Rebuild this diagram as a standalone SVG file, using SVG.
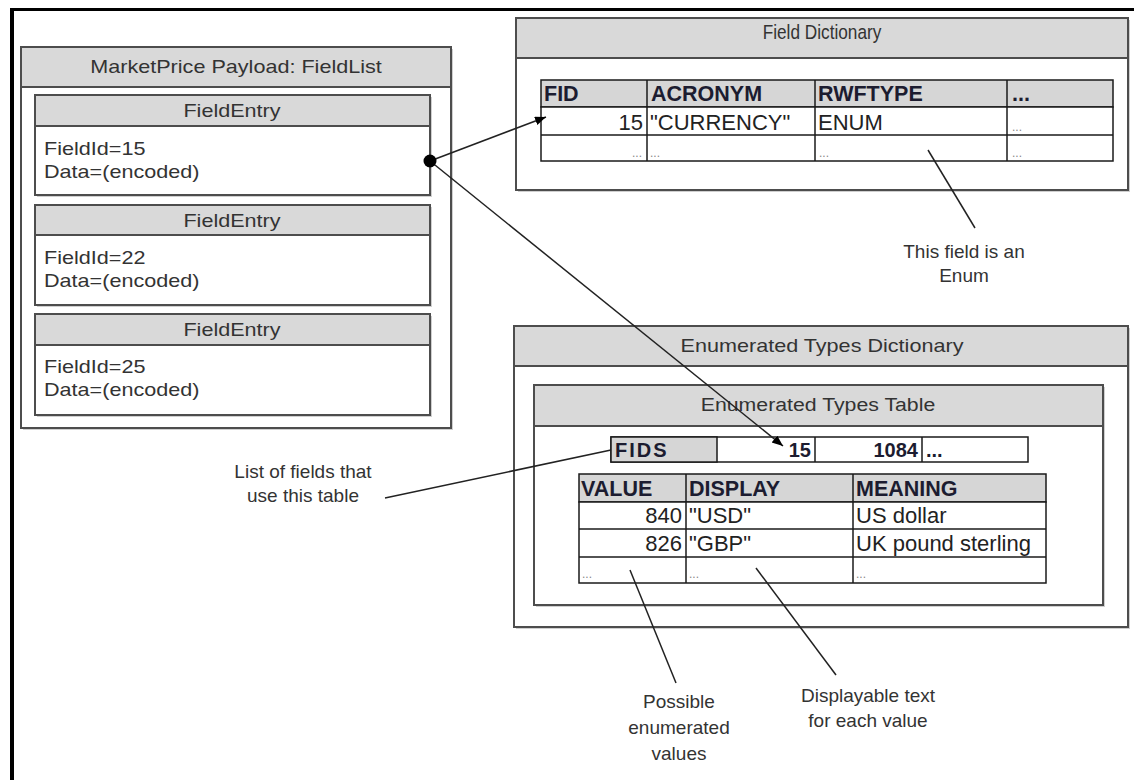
<svg xmlns="http://www.w3.org/2000/svg" width="1134" height="780" viewBox="0 0 1134 780">
<style>
.frame{fill:none;stroke:#000;}
.box{fill:#fff;stroke:#4d4d4d;stroke-width:2;}
.shadow{fill:#cfcfcf;stroke:none;}
.hdr{fill:#d9d9d9;stroke:#4d4d4d;stroke-width:2;}
.bx{font-family:"Liberation Sans",Arial,sans-serif;font-size:18px;fill:#333;}
.ttl{font-family:"Liberation Sans",Arial,sans-serif;fill:#333;}
.cell{fill:#fff;stroke:#1a1a1a;stroke-width:1.5;}
.chdr{fill:#d6d6d6;stroke:#1a1a1a;stroke-width:1.5;}
.th{font-family:"Liberation Sans",Arial,sans-serif;font-size:21.5px;font-weight:bold;fill:#1c1c30;}
.td{font-family:"Liberation Sans",Arial,sans-serif;font-size:22px;fill:#222;}
.thf{font-family:"Liberation Sans",Arial,sans-serif;font-size:20px;font-weight:bold;fill:#1c1c30;}
.dots{font-family:"Liberation Sans",Arial,sans-serif;font-size:12px;fill:#888;}
.lbl{font-family:"Liberation Sans",Arial,sans-serif;font-size:19px;fill:#333;text-anchor:middle;}
.conn{fill:none;stroke:#222;stroke-width:1.5;}
</style>
<defs>
<marker id="arr" markerUnits="userSpaceOnUse" markerWidth="12" markerHeight="10" refX="11" refY="4.5" orient="auto">
<path d="M0,0 L11,4.5 L0,9 z" fill="#000"/>
</marker>
</defs>
<rect width="1134" height="780" fill="#fff"/>
<line class="frame" x1="10" y1="9.5" x2="1134" y2="9.5" stroke-width="3"/>
<line class="frame" x1="12" y1="8" x2="12" y2="780" stroke-width="4"/>

<g id="fieldlist">
<rect class="shadow" x="23" y="49" width="430" height="381"/>
<rect class="box" x="21" y="47" width="430" height="381"/>
<rect class="hdr" x="21" y="47" width="430" height="40"/>
<text class="bx" text-anchor="middle" transform="translate(236,73) scale(1.2,1)">MarketPrice Payload: FieldList</text>
</g>

<g id="entry1">
<rect class="shadow" x="37" y="97" width="395" height="100"/>
<rect class="box" x="35" y="95" width="395" height="100"/>
<rect class="hdr" x="35" y="95" width="395" height="31"/>
<text class="bx" text-anchor="middle" transform="translate(232,117) scale(1.2,1)">FieldEntry</text>
<text class="bx" transform="translate(44,155) scale(1.2,1)">FieldId=15</text>
<text class="bx" transform="translate(44,178) scale(1.2,1)">Data=(encoded)</text>
</g>

<g id="entry2">
<rect class="shadow" x="37" y="207" width="395" height="100"/>
<rect class="box" x="35" y="205" width="395" height="100"/>
<rect class="hdr" x="35" y="205" width="395" height="30"/>
<text class="bx" text-anchor="middle" transform="translate(232,227) scale(1.2,1)">FieldEntry</text>
<text class="bx" transform="translate(44,264) scale(1.2,1)">FieldId=22</text>
<text class="bx" transform="translate(44,287) scale(1.2,1)">Data=(encoded)</text>
</g>

<g id="entry3">
<rect class="shadow" x="37" y="316" width="395" height="101"/>
<rect class="box" x="35" y="314" width="395" height="101"/>
<rect class="hdr" x="35" y="314" width="395" height="31"/>
<text class="bx" text-anchor="middle" transform="translate(232,336) scale(1.2,1)">FieldEntry</text>
<text class="bx" transform="translate(44,373) scale(1.2,1)">FieldId=25</text>
<text class="bx" transform="translate(44,396) scale(1.2,1)">Data=(encoded)</text>
</g>

<g id="fielddict">
<rect class="shadow" x="518" y="20" width="612" height="172"/>
<rect class="box" x="516" y="18" width="612" height="172"/>
<rect class="hdr" x="516" y="18" width="612" height="40"/>
<text class="ttl" font-size="20.5" text-anchor="middle" transform="translate(822,39) scale(0.84,1)">Field Dictionary</text>
<rect class="chdr" x="541" y="80" width="572" height="27"/>
<rect class="cell" x="541" y="107" width="572" height="54"/>
<line class="cell" x1="541" y1="135" x2="1113" y2="135"/>
<line class="cell" x1="647" y1="80" x2="647" y2="161"/>
<line class="cell" x1="815" y1="80" x2="815" y2="161" stroke-width="2.5"/>
<line class="cell" x1="1007" y1="80" x2="1007" y2="161"/>
<text class="th" x="544" y="101">FID</text>
<text class="th" x="651" y="101">ACRONYM</text>
<text class="th" x="818" y="101">RWFTYPE</text>
<text class="th" x="1012" y="101">...</text>
<text class="td" x="643" y="130" text-anchor="end">15</text>
<text class="td" x="650" y="130">"CURRENCY"</text>
<text class="td" x="818" y="130">ENUM</text>
<text class="dots" x="1012" y="131">...</text>
<text class="dots" x="642" y="157" text-anchor="end">...</text>
<text class="dots" x="650" y="157">...</text>
<text class="dots" x="819" y="157">...</text>
<text class="dots" x="1012" y="157">...</text>
</g>

<g id="enumdict">
<rect class="shadow" x="516" y="328" width="614" height="301"/>
<rect class="box" x="514" y="326" width="614" height="301"/>
<rect class="hdr" x="514" y="326" width="614" height="40"/>
<text class="ttl" font-size="18" text-anchor="middle" transform="translate(822,352) scale(1.2,1)">Enumerated Types Dictionary</text>
</g>

<g id="enumtable">
<rect class="shadow" x="536" y="387" width="569" height="220"/>
<rect class="box" x="534" y="385" width="569" height="220"/>
<rect class="hdr" x="534" y="385" width="569" height="41"/>
<text class="ttl" font-size="19" text-anchor="middle" transform="translate(818,411) scale(1.12,1)">Enumerated Types Table</text>
<rect class="cell" x="611" y="437" width="417" height="25"/>
<rect class="chdr" x="611" y="437" width="106" height="25"/>
<line class="cell" x1="815" y1="437" x2="815" y2="462" stroke-width="2.5"/>
<line class="cell" x1="922" y1="437" x2="922" y2="462"/>
<text class="thf" x="615" y="457" letter-spacing="2">FIDS</text>
<text class="thf" x="811" y="457" text-anchor="end">15</text>
<text class="thf" x="918" y="457" text-anchor="end">1084</text>
<text class="thf" x="926" y="457">...</text>
<rect class="chdr" x="579" y="474" width="467" height="28"/>
<rect class="cell" x="579" y="502" width="467" height="81"/>
<line class="cell" x1="579" y1="529" x2="1046" y2="529"/>
<line class="cell" x1="579" y1="557" x2="1046" y2="557"/>
<line class="cell" x1="686" y1="474" x2="686" y2="583"/>
<line class="cell" x1="853" y1="474" x2="853" y2="583"/>
<text class="th" x="581" y="496">VALUE</text>
<text class="th" x="689" y="496">DISPLAY</text>
<text class="th" x="856" y="496">MEANING</text>
<text class="td" x="682" y="523" text-anchor="end">840</text>
<text class="td" x="689" y="523">"USD"</text>
<text class="td" x="856" y="523">US dollar</text>
<text class="td" x="682" y="551" text-anchor="end">826</text>
<text class="td" x="689" y="551">"GBP"</text>
<text class="td" x="856" y="551">UK pound sterling</text>
<text class="dots" x="582" y="578">...</text>
<text class="dots" x="689" y="578">...</text>
<text class="dots" x="856" y="578">...</text>
</g>

<g id="connectors">
<line class="conn" x1="430" y1="161" x2="546" y2="117" marker-end="url(#arr)"/>
<line class="conn" x1="430" y1="161" x2="783" y2="446" marker-end="url(#arr)"/>
<circle cx="430" cy="161" r="6.5" fill="#000"/>
<line class="conn" x1="928" y1="150" x2="975" y2="228"/>
<line class="conn" x1="385" y1="498" x2="611" y2="450"/>
<line class="conn" x1="630" y1="570" x2="676" y2="683"/>
<line class="conn" x1="756" y1="568" x2="836" y2="675"/>
</g>

<g id="notes">
<text class="lbl" font-size="20" x="964" y="258">This field is an</text>
<text class="lbl" font-size="20" x="964" y="282">Enum</text>
<text class="lbl" font-size="21" x="303" y="478">List of fields that</text>
<text class="lbl" font-size="21" x="303" y="502">use this table</text>
<text class="lbl" font-size="18.5" x="679" y="708">Possible</text>
<text class="lbl" font-size="18.5" x="679" y="734">enumerated</text>
<text class="lbl" font-size="18.5" x="679" y="760">values</text>
<text class="lbl" font-size="19.5" x="868" y="702">Displayable text</text>
<text class="lbl" font-size="19.5" x="868" y="727">for each value</text>
</g>
</svg>
